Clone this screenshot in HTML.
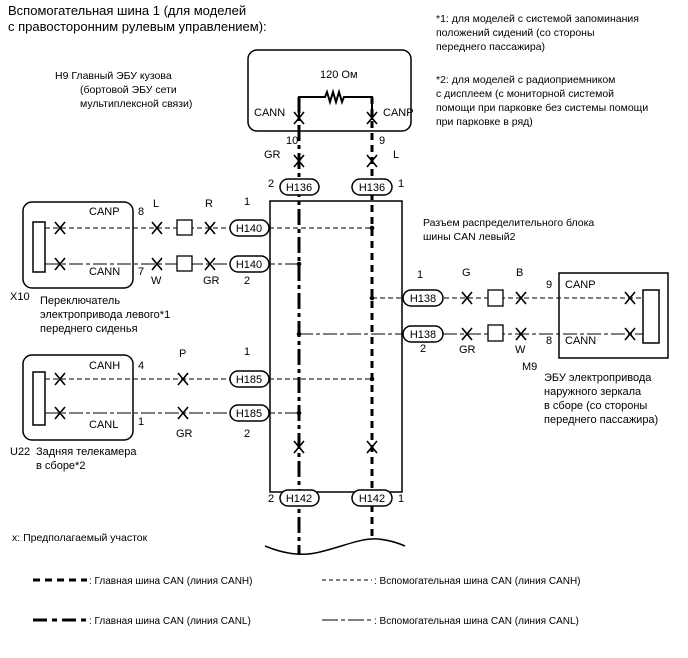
<!DOCTYPE html>
<html><head><meta charset="utf-8"><style>
html,body{margin:0;padding:0;background:#fff}
svg{display:block}
text{font-family:"Liberation Sans",Arial,sans-serif;fill:#000}
</style></head><body>
<svg width="688" height="658" viewBox="0 0 688 658" xmlns="http://www.w3.org/2000/svg">
<defs>
<g id="x"><path d="M-5,-6 L5,6 M5,-6 L-5,6" stroke="#000" stroke-width="1.6" fill="none"/></g>
</defs>
<g font-size="13">
<text x="8" y="15">Вспомогательная шина 1 (для моделей</text>
<text x="8" y="31">с правосторонним рулевым управлением):</text>
</g>
<g font-size="10.5">
<text x="436" y="22">*1: для моделей с системой запоминания</text>
<text x="436" y="36">положений сидений (со стороны</text>
<text x="436" y="50">переднего пассажира)</text>
<text x="436" y="83">*2: для моделей с радиоприемником</text>
<text x="436" y="97">с дисплеем (с мониторной системой</text>
<text x="436" y="111">помощи при парковке без системы помощи</text>
<text x="436" y="125">при парковке в ряд)</text>
<text x="55" y="79">H9  Главный ЭБУ кузова</text>
<text x="80" y="93">(бортовой ЭБУ сети</text>
<text x="80" y="107">мультиплексной связи)</text>
</g>

<!-- top box -->
<rect x="248" y="50" width="163" height="81" rx="9" fill="none" stroke="#000" stroke-width="1.5"/>
<text x="320" y="78" font-size="11">120 Ом</text>
<path d="M299,120 V97 H325 l2,-5 l3,10 l3,-10 l3,10 l3,-10 l3,10 l2,-5 H372 V120" stroke="#000" stroke-width="2" fill="none"/>
<text x="254" y="116" font-size="11">CANN</text>
<text x="383" y="116" font-size="11">CANP</text>

<!-- main bus lines -->
<line x1="299" y1="97" x2="299" y2="555" stroke="#000" stroke-width="3" stroke-dasharray="16 4 4 4"/>
<line x1="372" y1="97" x2="372" y2="539" stroke="#000" stroke-width="3" stroke-dasharray="7 5"/>
<use href="#x" x="299" y="118"/><use href="#x" x="372" y="118"/>
<use href="#x" x="299" y="161"/><use href="#x" x="372" y="161"/>
<use href="#x" x="299" y="447"/><use href="#x" x="372" y="447"/>
<g font-size="11">
<text x="286" y="144">10</text><text x="379" y="144">9</text>
<text x="264" y="158">GR</text><text x="393" y="158">L</text>
<text x="268" y="187">2</text><text x="398" y="187">1</text>
<text x="268" y="502">2</text><text x="398" y="502">1</text>
</g>

<!-- junction box -->
<rect x="270" y="201" width="132" height="291" fill="none" stroke="#000" stroke-width="1.5"/>
<text x="423" y="226" font-size="10.5">Разъем распределительного блока</text>
<text x="423" y="240" font-size="10.5">шины CAN левый2</text>

<!-- X10 -->
<rect x="23" y="202" width="110" height="86" rx="9" fill="none" stroke="#000" stroke-width="1.5"/>
<rect x="33" y="222" width="12" height="50" fill="#fff" stroke="#000" stroke-width="1.5"/>
<line x1="45" y1="228" x2="372" y2="228" stroke="#000" stroke-width="1" stroke-dasharray="5 3"/>
<line x1="45" y1="264" x2="299" y2="264" stroke="#000" stroke-width="1" stroke-dasharray="14 3 4 3"/>
<use href="#x" x="60" y="228"/><use href="#x" x="60" y="264"/>
<use href="#x" x="157" y="228"/><use href="#x" x="157" y="264"/>
<use href="#x" x="210" y="228"/><use href="#x" x="210" y="264"/>
<rect x="177" y="220" width="15" height="15" fill="#fff" stroke="#000" stroke-width="1.3"/>
<rect x="177" y="256" width="15" height="15" fill="#fff" stroke="#000" stroke-width="1.3"/>
<circle cx="372" cy="228" r="2.3"/><circle cx="299" cy="264" r="2.3"/>
<g font-size="11">
<text x="89" y="215">CANP</text><text x="138" y="215">8</text>
<text x="89" y="275">CANN</text><text x="138" y="275">7</text>
<text x="153" y="207">L</text><text x="205" y="207">R</text><text x="244" y="205">1</text>
<text x="151" y="284">W</text><text x="203" y="284">GR</text><text x="244" y="284">2</text>
<text x="10" y="300">X10</text>
<text x="40" y="304">Переключатель</text>
<text x="40" y="318">электропривода левого*1</text>
<text x="40" y="332">переднего сиденья</text>
</g>

<!-- U22 -->
<rect x="23" y="355" width="110" height="85" rx="9" fill="none" stroke="#000" stroke-width="1.5"/>
<rect x="33" y="372" width="12" height="53" fill="#fff" stroke="#000" stroke-width="1.5"/>
<line x1="45" y1="379" x2="372" y2="379" stroke="#000" stroke-width="1" stroke-dasharray="5 3"/>
<line x1="45" y1="413" x2="299" y2="413" stroke="#000" stroke-width="1" stroke-dasharray="14 3 4 3"/>
<use href="#x" x="60" y="379"/><use href="#x" x="60" y="413"/>
<use href="#x" x="183" y="379"/><use href="#x" x="183" y="413"/>
<circle cx="372" cy="379" r="2.3"/><circle cx="299" cy="413" r="2.3"/>
<g font-size="11">
<text x="89" y="369">CANH</text><text x="138" y="369">4</text>
<text x="89" y="428">CANL</text><text x="138" y="425">1</text>
<text x="179" y="357">P</text><text x="176" y="437">GR</text>
<text x="244" y="355">1</text><text x="244" y="437">2</text>
<text x="10" y="455">U22</text>
<text x="36" y="455">Задняя телекамера</text>
<text x="36" y="469">в сборе*2</text>
</g>

<!-- M9 -->
<rect x="559" y="273" width="109" height="85" fill="none" stroke="#000" stroke-width="1.5"/>
<rect x="643" y="290" width="16" height="53" fill="#fff" stroke="#000" stroke-width="1.5"/>
<line x1="372" y1="298" x2="643" y2="298" stroke="#000" stroke-width="1" stroke-dasharray="5 3"/>
<line x1="299" y1="334" x2="643" y2="334" stroke="#000" stroke-width="1" stroke-dasharray="14 3 4 3"/>
<circle cx="372" cy="298" r="2.3"/><circle cx="299" cy="334" r="2.3"/>
<use href="#x" x="467" y="298"/><use href="#x" x="467" y="334"/>
<use href="#x" x="521" y="298"/><use href="#x" x="521" y="334"/>
<use href="#x" x="630" y="298"/><use href="#x" x="630" y="334"/>
<rect x="488" y="290" width="15" height="16" fill="#fff" stroke="#000" stroke-width="1.3"/>
<rect x="488" y="325" width="15" height="16" fill="#fff" stroke="#000" stroke-width="1.3"/>
<g font-size="11">
<text x="417" y="278">1</text><text x="462" y="276">G</text><text x="516" y="276">B</text>
<text x="546" y="288">9</text><text x="565" y="288">CANP</text>
<text x="420" y="352">2</text><text x="459" y="353">GR</text><text x="515" y="353">W</text>
<text x="546" y="344">8</text><text x="565" y="344">CANN</text>
<text x="522" y="370">M9</text>
<text x="544" y="381">ЭБУ электропривода</text>
<text x="544" y="395">наружного зеркала</text>
<text x="544" y="409">в сборе (со стороны</text>
<text x="544" y="423">переднего пассажира)</text>
</g>

<!-- connectors ovals -->
<g fill="#fff" stroke="#000" stroke-width="1.5">
<rect x="280" y="179" width="39" height="16" rx="8"/>
<rect x="352" y="179" width="40" height="16" rx="8"/>
<rect x="230" y="220" width="39" height="16" rx="8"/>
<rect x="230" y="256" width="39" height="16" rx="8"/>
<rect x="230" y="371" width="39" height="16" rx="8"/>
<rect x="230" y="405" width="39" height="16" rx="8"/>
<rect x="403" y="290" width="40" height="16" rx="8"/>
<rect x="403" y="326" width="40" height="16" rx="8"/>
<rect x="280" y="490" width="39" height="16" rx="8"/>
<rect x="352" y="490" width="40" height="16" rx="8"/>
</g>
<g font-size="11" text-anchor="middle">
<text x="299" y="191">H136</text><text x="372" y="191">H136</text>
<text x="249" y="232">H140</text><text x="249" y="268">H140</text>
<text x="249" y="383">H185</text><text x="249" y="417">H185</text>
<text x="423" y="302">H138</text><text x="423" y="338">H138</text>
<text x="299" y="502">H142</text><text x="372" y="502">H142</text>
</g>
<path d="M265,546 C282,553 300,557 320,552 C345,546 360,538 378,539 C390,540 398,543 405,546" fill="none" stroke="#000" stroke-width="1.5"/>

<text x="12" y="541" font-size="10.5">x: Предполагаемый участок</text>

<!-- legend -->
<line x1="33" y1="580" x2="87" y2="580" stroke="#000" stroke-width="3" stroke-dasharray="7 5"/>
<text x="89" y="584" font-size="10">: Главная шина CAN (линия CANH)</text>
<line x1="33" y1="620" x2="87" y2="620" stroke="#000" stroke-width="3" stroke-dasharray="14 5 5 5"/>
<text x="89" y="624" font-size="10">: Главная шина CAN (линия CANL)</text>
<line x1="322" y1="580" x2="372" y2="580" stroke="#000" stroke-width="1" stroke-dasharray="4 3"/>
<text x="374" y="584" font-size="10">: Вспомогательная шина CAN (линия CANH)</text>
<line x1="322" y1="620" x2="372" y2="620" stroke="#000" stroke-width="1" stroke-dasharray="16 3 4 3"/>
<text x="374" y="624" font-size="10">: Вспомогательная шина CAN (линия CANL)</text>
</svg>
</body></html>
